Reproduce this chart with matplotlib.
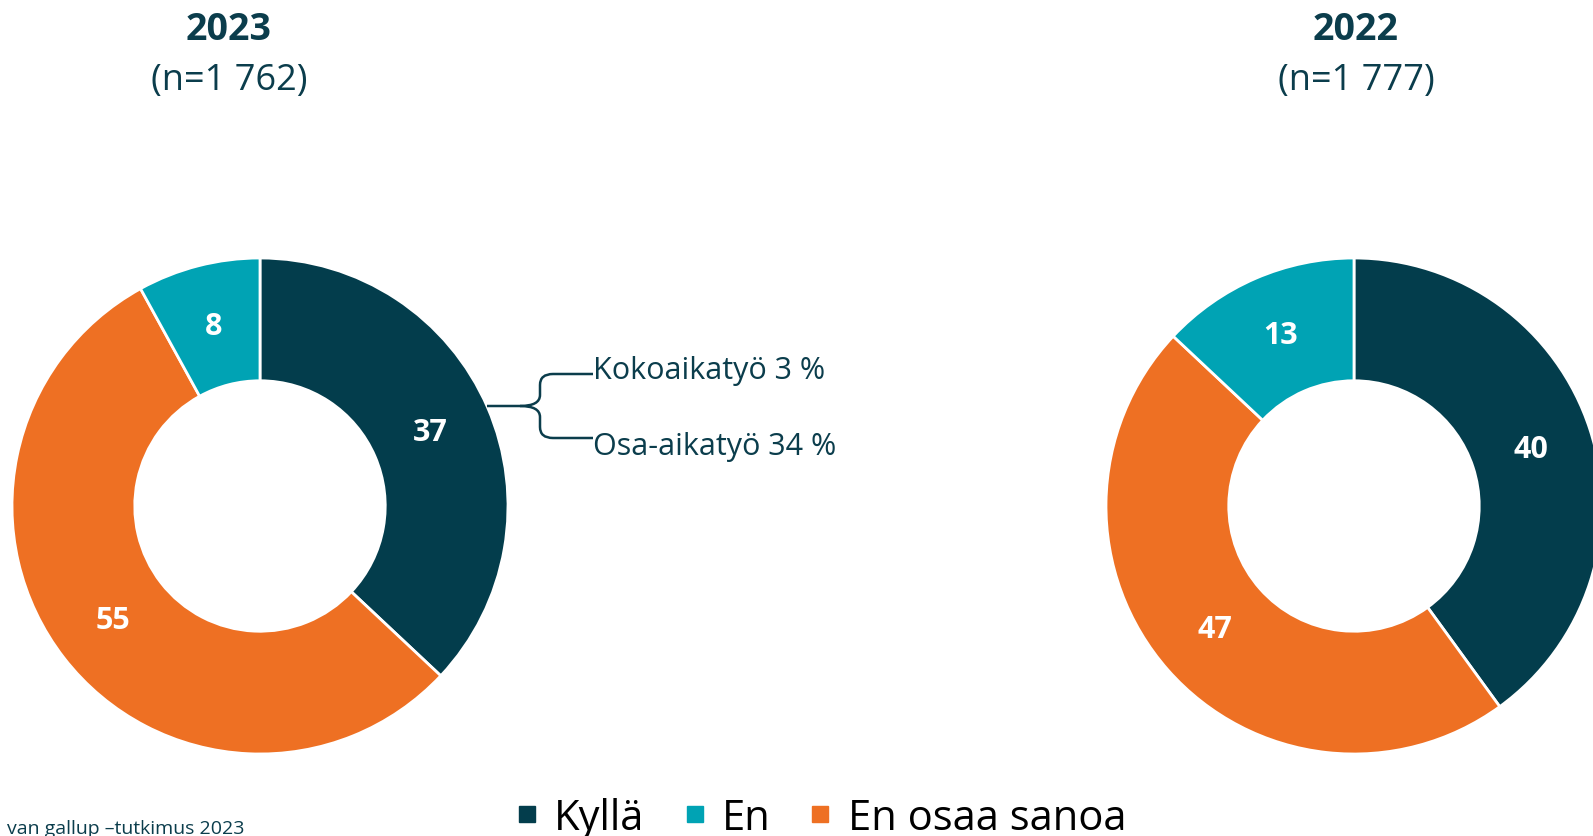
import matplotlib
matplotlib.use('Agg')
import matplotlib.pyplot as plt
from matplotlib.path import Path
from matplotlib.patches import PathPatch
from matplotlib.lines import Line2D

categories = ['Kyllä', 'En', 'En osaa sanoa']
values_2023 = [37, 8, 55]
values_2022 = [40, 13, 47]
years = ['2023', '2022']
sizes = ['(n=1 762)', '(n=1 777)']
breakdown = ['Kokoaikatyö 3 %', 'Osa-aikatyö 34 %']
source = 'van gallup –tutkimus 2023'

colors = ['#033d4c', '#00a3b4', '#ee7023']
dark = '#0b3d4c'
W, H = 1593, 837

plt.rcParams['font.family'] = ['Open Sans', 'DejaVu Sans']

fig = plt.figure(figsize=(W / 100, H / 100), dpi=100)

def donut(cx, cy, r, values):
    ax = fig.add_axes([(cx - r) / W, 1 - (cy + r) / H, 2 * r / W, 2 * r / H])
    order = [0, 2, 1]  # clockwise from top: Kyllä, En osaa sanoa, En
    vals = [values[i] for i in order]
    cols = [colors[i] for i in order]
    ax.pie(vals, colors=cols, startangle=90, counterclock=False,
           radius=1, labels=[str(v) for v in vals], labeldistance=0.75,
           wedgeprops=dict(width=0.495, edgecolor='white', linewidth=2),
           textprops=dict(color='white', fontsize=22, fontweight='bold',
                          ha='center', va='center'))
    ax.set_xlim(-1, 1)
    ax.set_ylim(-1, 1)
    ax.set_aspect('equal')
    ax.axis('off')
    return ax

donut(260, 507, 248, values_2023)
donut(1354, 507, 248, values_2022)

# overlay in pixel coordinates
ov = fig.add_axes([0, 0, 1, 1])
ov.set_xlim(0, W)
ov.set_ylim(H, 0)
ov.axis('off')
ov.patch.set_alpha(0)

for x, yr, n in zip([229, 1356], years, sizes):
    ov.text(x, 30, yr, ha='center', va='center', fontsize=27,
            fontweight='bold', color=dark)
    ov.text(x, 81, n, ha='center', va='center', fontsize=26, color=dark)

# bracket for the Kyllä split
verts = [(487, 407), (520, 407), (540, 407), (540, 396), (540, 386),
         (540, 375), (553, 375), (593, 375)]
codes = [Path.MOVETO, Path.LINETO, Path.CURVE3, Path.CURVE3, Path.LINETO,
         Path.CURVE3, Path.CURVE3, Path.LINETO]
ov.add_patch(PathPatch(Path(verts, codes), fill=False, edgecolor=dark, lw=1.8))
verts = [(520, 407), (540, 407), (540, 418), (540, 428),
         (540, 439), (553, 439), (593, 439)]
codes = [Path.MOVETO, Path.CURVE3, Path.CURVE3, Path.LINETO,
         Path.CURVE3, Path.CURVE3, Path.LINETO]
ov.add_patch(PathPatch(Path(verts, codes), fill=False, edgecolor=dark, lw=1.8))
ov.text(593, 371, breakdown[0], ha='left', va='center', fontsize=22, color=dark)
ov.text(593, 447, breakdown[1], ha='left', va='center', fontsize=22, color=dark)

ov.text(244, 834, source, ha='right', va='baseline', fontsize=14, color=dark)

handles = [Line2D([], [], marker='s', color=c, linestyle='none', markersize=11)
           for c in colors]
fig.legend(handles, categories, loc='center', bbox_to_anchor=(0.515, 0.022),
           ncol=3, frameon=False, handlelength=0.6, handletextpad=0.35,
           columnspacing=0.9, prop=dict(size=30))

fig.savefig('out.png', dpi=100)
